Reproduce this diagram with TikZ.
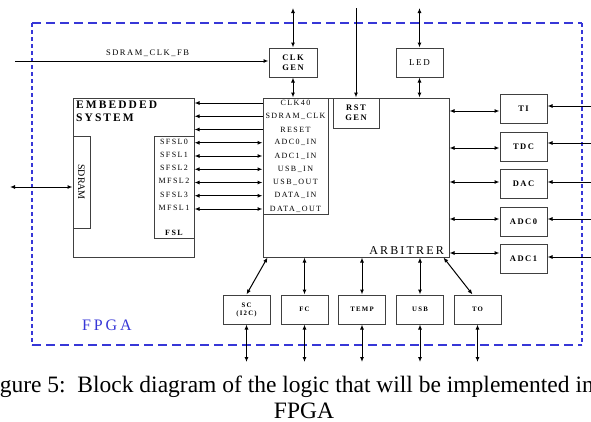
\documentclass[tikz,border=0pt]{standalone}
\usepackage{fontspec}
\setmainfont{Liberation Serif}
\newfontfamily\spaced[LetterSpace=18]{Liberation Serif}
\usetikzlibrary{positioning,arrows.meta}
\definecolor{fpgablue}{RGB}{55,55,215}

\begin{document}
\begin{tikzpicture}[x=1pt, y=-1pt,
    box/.style={rectangle, draw=black!75, line width=1pt, inner sep=0pt},
    block/.style={box, minimum width=47pt, minimum height=29pt, align=center, font=\spaced\bfseries\fontsize{8.5}{10}\selectfont},
    small/.style={block, font=\spaced\bfseries\fontsize{6.8}{8}\selectfont},
    port/.style={inner sep=0pt, font=\spaced\fontsize{8}{8}\selectfont},
    arrow/.style={-{Latex[length=5pt,width=4pt]}, line width=1pt},
    dbl/.style={{Latex[length=5pt,width=4pt]}-{Latex[length=5pt,width=4pt]}, line width=1pt},
    fpga/.style={draw=fpgablue, line width=2.5pt}
]
\useasboundingbox (0,0) rectangle (591,421);
\clip (0,0) rectangle (591,421);

% FPGA border
\draw[fpga, dash pattern=on 9pt off 5pt] (32,23) -- (582,23);
\draw[fpga, dash pattern=on 9pt off 5pt] (32,345) -- (582,345);
\draw[fpga, dash pattern=on 4pt off 3pt] (32,23) -- (32,345);
\draw[fpga, dash pattern=on 4pt off 3pt] (582,23) -- (582,345);
\node[anchor=base west, inner sep=0pt, text=fpgablue, font=\spaced\fontsize{16}{18}\selectfont] (fpgalabel) at (82,330) {FPGA};

% Arbiter
\node[box, minimum width=186pt, minimum height=159pt] (arb) at (356,177.5) {};
\node[anchor=base east, inner sep=0pt, font=\spaced\fontsize{12}{14}\selectfont] (arblabel) at (444,254) {ARBITRER};
\node[box, minimum width=65pt, minimum height=116pt] (ports) at (295.5,156) {};
\node[port] (clk40) at (295.5,103) {CLK40};
\node[port] (sdramclk) at (295.5,116.25) {SDRAM\_CLK};
\node[port] (reset) at (295.5,129.5) {RESET};
\node[port] (adc0in) at (295.5,142.75) {ADC0\_IN};
\node[port] (adc1in) at (295.5,156) {ADC1\_IN};
\node[port] (usbin) at (295.5,169.25) {USB\_IN};
\node[port] (usbout) at (295.5,182.5) {USB\_OUT};
\node[port] (datain) at (295.5,195.75) {DATA\_IN};
\node[port] (dataout) at (295.5,209) {DATA\_OUT};
\node[block, minimum width=46pt, minimum height=30pt] (rstgen) at (356,113) {RST\\GEN};

% Top blocks
\node[block, minimum width=48pt] (clkgen) at (293,62.5) {CLK\\GEN};
\node[block, font=\spaced\fontsize{9}{10}\selectfont] (led) at (419.5,62.5) {LED};

% Embedded system
\node[box, minimum width=121pt, minimum height=159pt] (emb) at (133.5,177.5) {};
\node[anchor=north west, inner sep=0pt, align=left, font=\spaced\bfseries\fontsize{11.5}{13}\selectfont] (emblabel) at (76,101) {EMBEDDED\\SYSTEM};
\node[box, minimum width=17pt, minimum height=92pt] (sdram) at (81.5,182) {};
\node[rotate=-90, inner sep=0pt, font=\fontsize{10}{12}\selectfont] (sdramlabel) at (sdram) {SDRAM};
\node[box, minimum width=40pt, minimum height=102pt] (fsl) at (174,187) {};
\node[port] (sfsl0) at (174,141.5) {SFSL0};
\node[port] (sfsl1) at (174,154.75) {SFSL1};
\node[port] (sfsl2) at (174,168) {SFSL2};
\node[port] (mfsl2) at (174,181.25) {MFSL2};
\node[port] (sfsl3) at (174,194.5) {SFSL3};
\node[port] (mfsl1) at (174,207.75) {MFSL1};
\node[port, font=\spaced\bfseries\fontsize{8}{8}\selectfont] (fsllabel) at (174,233) {FSL};

% Right blocks
\node[block] (ti) at (523.5,108.5) {TI};
\node[block] (tdc) at (523.5,146.5) {TDC};
\node[block] (dac) at (523.5,184) {DAC};
\node[block] (adc0) at (523.5,221.5) {ADC0};
\node[block] (adc1) at (523.5,259) {ADC1};

% Bottom blocks
\node[small] (sc) at (246.5,309.5) {SC\\(I2C)};
\node[small] (fc) at (304.5,309.5) {FC};
\node[small] (temp) at (362,309.5) {TEMP};
\node[small] (usb) at (420,309.5) {USB};
\node[small] (to) at (477.5,309.5) {TO};

% Free ends
\coordinate (fbin) at (15,61);
\coordinate (sdramext) at (10,187);
\coordinate (clktop) at (293,8);
\coordinate (rsttop) at (356,8);
\coordinate (ledtop) at (419.5,8);
\coordinate (tiext) at (595,106);
\coordinate (tdcext) at (595,143);
\coordinate (dacext) at (595,182);
\coordinate (adc0ext) at (595,219);
\coordinate (adc1ext) at (595,257);
\coordinate (scext) at (246.5,362);
\coordinate (fcext) at (304.5,362);
\coordinate (tempext) at (362,362);
\coordinate (usbext) at (420,362);
\coordinate (toext) at (477.5,362);

% Top connections
\draw[arrow] (fbin) -- (fbin -| clkgen.west);
\node[anchor=base, inner sep=0pt, font=\spaced\fontsize{8.5}{9}\selectfont] (fblabel) at (147.5,55) {SDRAM\_CLK\_FB};
\draw[dbl] (clktop) -- (clkgen.north);
\draw[dbl] (clkgen.south) -- (clkgen.south |- arb.north);
\draw[arrow] (rsttop) -- (rstgen.north);
\draw[dbl] (ledtop) -- (led.north);
\draw[dbl] (led.south) -- (led.south |- arb.north);
\draw[dbl] (sdramext) -- (sdramext -| sdram.west);

% Ports to embedded system
\draw[arrow] (ports.west |- clk40) -- (emb.east |- clk40);
\draw[arrow] (ports.west |- sdramclk) -- (emb.east |- sdramclk);
\draw[arrow] (ports.west |- reset) -- (emb.east |- reset);
\draw[dbl] (ports.west |- adc0in) -- (emb.east |- adc0in);
\draw[dbl] (ports.west |- adc1in) -- (emb.east |- adc1in);
\draw[dbl] (ports.west |- usbin) -- (emb.east |- usbin);
\draw[dbl] (ports.west |- usbout) -- (emb.east |- usbout);
\draw[dbl] (ports.west |- datain) -- (emb.east |- datain);
\draw[dbl] (ports.west |- dataout) -- (emb.east |- dataout);

% Right connections
\draw[dbl] ([yshift=-2.5pt]ti.west) -- ([yshift=-2.5pt]ti.west -| arb.east);
\draw[dbl] ([yshift=-1.5pt]tdc.west) -- ([yshift=-1.5pt]tdc.west -| arb.east);
\draw[dbl] ([yshift=2pt]dac.west) -- ([yshift=2pt]dac.west -| arb.east);
\draw[dbl] ([yshift=2.5pt]adc0.west) -- ([yshift=2.5pt]adc0.west -| arb.east);
\draw[dbl] ([yshift=6pt]adc1.west) -- ([yshift=6pt]adc1.west -| arb.east);
\draw[arrow] (tiext) -- (tiext -| ti.east);
\draw[arrow] (tdcext) -- (tdcext -| tdc.east);
\draw[arrow] (dacext) -- (dacext -| dac.east);
\draw[arrow] (adc0ext) -- (adc0ext -| adc0.east);
\draw[arrow] (adc1ext) -- (adc1ext -| adc1.east);

% Bottom connections
\draw[dbl] (sc.north) -- ([xshift=5pt]arb.south west);
\draw[dbl] (fc.north) -- (fc.north |- arb.south);
\draw[dbl] (temp.north) -- (temp.north |- arb.south);
\draw[dbl] (usb.north) -- (usb.north |- arb.south);
\draw[dbl] ([xshift=-5pt]to.north) -- ([xshift=-6pt]arb.south east);
\draw[dbl] (sc.south) -- (scext);
\draw[dbl] (fc.south) -- (fcext);
\draw[dbl] (temp.south) -- (tempext);
\draw[dbl] (usb.south) -- (usbext);
\draw[dbl] (to.south) -- (toext);

% Caption
\node[anchor=base west, inner sep=0pt, font=\fontsize{23.5}{27}\selectfont] (cap1) at (-20,392) {Figure 5:\ \ Block diagram of the logic that will be implemented in};
\node[anchor=base, inner sep=0pt, font=\fontsize{23.5}{27}\selectfont] (cap2) at (304,418) {FPGA};

\end{tikzpicture}
\end{document}
